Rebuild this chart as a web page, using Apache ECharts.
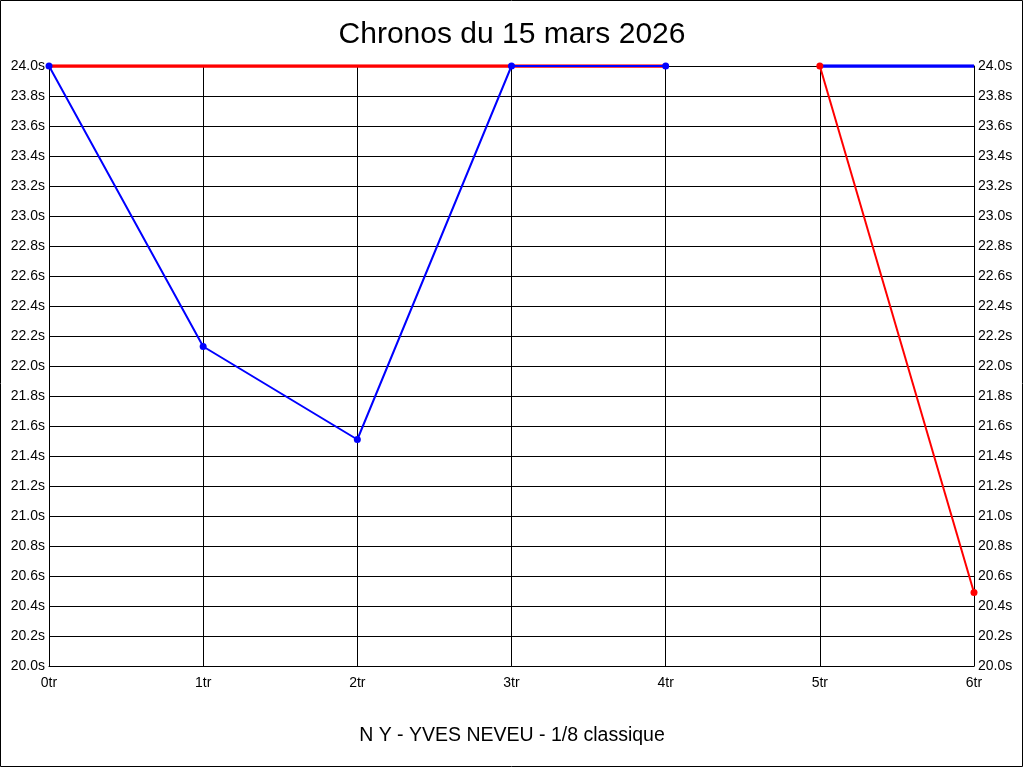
<!DOCTYPE html>
<html>
<head>
<meta charset="utf-8">
<script src="https://cdn.jsdelivr.net/npm/echarts@6/dist/echarts.min.js"></script>
<style>
html,body{margin:0;padding:0;background:#fff;}
#main{width:1024px;height:768px;}
</style>
</head>
<body>
<div id="main"></div>
<script>
// categories (tours) and chrono values
var tours = ['0tr', '1tr', '2tr', '3tr', '4tr', '5tr', '6tr'];
var bleu = [24.0, 22.13, 21.51, 24.0, 24.0, '-', '-'];
var bleuHaut = ['-', '-', '-', '-', '-', 24.0, 24.0];
var rougeHaut = [24.0, 24.0, 24.0, 24.0, 24.0, '-', '-'];
var rouge = ['-', '-', '-', '-', '-', 24.0, 20.49];

var yMin = 20, yMax = 24, yStep = 0.2;

var myChart = echarts.init(document.getElementById('main'));

function fmt(v) { return v.toFixed(1) + 's'; }

var yLabel = {
    color: '#000',
    fontFamily: 'Liberation Sans, Arial, sans-serif',
    fontSize: 14,
    formatter: fmt
};

var option = {
    backgroundColor: '#fff',
    animation: false,
    title: {
        text: 'Chronos du 15 mars 2026',
        left: 'center',
        top: 15,
        textStyle: {
            color: '#000',
            fontFamily: 'Liberation Sans, Arial, sans-serif',
            fontSize: 30,
            fontWeight: 'normal'
        }
    },
    graphic: [
        {
            type: 'rect',
            shape: { x: 0.5, y: 0.5, width: 1022, height: 766 },
            style: { fill: 'none', stroke: '#000', lineWidth: 1 },
            silent: true
        },
        {
            type: 'text',
            left: 'center',
            top: 726,
            style: {
                text: 'N Y - YVES NEVEU - 1/8 classique',
                fill: '#000',
                font: '19.5px "Liberation Sans", Arial, sans-serif'
            }
        }
    ],
    grid: { left: 49, right: 50, top: 66, bottom: 102 },
    xAxis: {
        type: 'category',
        data: tours,
        boundaryGap: false,
        axisLine: { lineStyle: { color: '#000', width: 1 } },
        axisTick: { show: false },
        axisLabel: {
            color: '#000',
            fontFamily: 'Liberation Sans, Arial, sans-serif',
            fontSize: 14,
            margin: 10
        },
        splitLine: { show: true, lineStyle: { color: '#000', width: 1 } }
    },
    yAxis: [
        {
            type: 'value',
            min: yMin,
            max: yMax,
            interval: yStep,
            axisLine: { show: true, lineStyle: { color: '#000' } },
            axisTick: { show: false },
            axisLabel: Object.assign({ margin: 4 }, yLabel),
            splitLine: { show: true, lineStyle: { color: '#000', width: 1 } }
        },
        {
            type: 'value',
            position: 'right',
            min: yMin,
            max: yMax,
            interval: yStep,
            axisLine: { show: true, lineStyle: { color: '#000' } },
            axisTick: { show: false },
            axisLabel: Object.assign({ margin: 4 }, yLabel),
            splitLine: { show: false }
        }
    ],
    series: [
        {
            type: 'line',
            data: rougeHaut,
            showSymbol: false,
            lineStyle: { color: '#ff0000', width: 3.5 },
            z: 2
        },
        {
            type: 'line',
            data: bleuHaut,
            showSymbol: false,
            lineStyle: { color: '#0000ff', width: 3.5 },
            z: 2
        },
        {
            type: 'line',
            data: bleu,
            symbol: 'circle',
            symbolSize: 7,
            itemStyle: { color: '#0000ff' },
            lineStyle: { color: '#0000ff', width: 2 },
            z: 3
        },
        {
            type: 'line',
            data: rouge,
            symbol: 'circle',
            symbolSize: 7,
            itemStyle: { color: '#ff0000' },
            lineStyle: { color: '#ff0000', width: 2 },
            z: 4
        }
    ]
};

myChart.setOption(option);
</script>
</body>
</html>
